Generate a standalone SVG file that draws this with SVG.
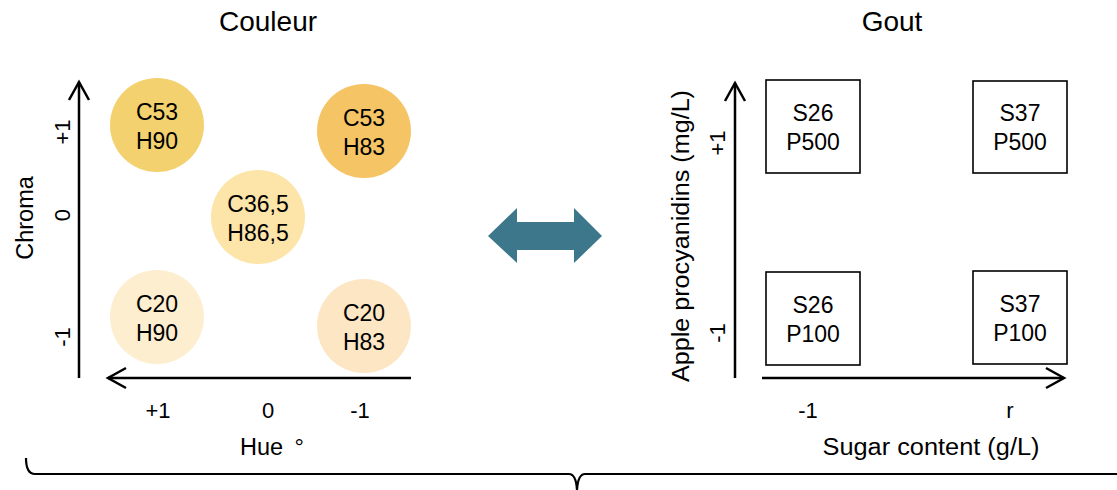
<svg xmlns="http://www.w3.org/2000/svg" width="1117" height="490" viewBox="0 0 1117 490">
  <style>
    text { font-family: "Liberation Sans", Arial, sans-serif; fill: #000; }
    .title { font-size: 28px; text-anchor: middle; }
    .lbl { font-size: 23px; text-anchor: middle; }
    .axis-title { font-size: 23.5px; text-anchor: middle; }
    .tick { font-size: 22px; text-anchor: middle; }
    .axis { stroke: #000; stroke-width: 2.5; fill: none; marker-end: url(#chevron); }
    .box { fill: #fff; stroke: #000; stroke-width: 1.6; }
    .brace { fill: none; stroke: #000; stroke-width: 2.2; }
  </style>
  <defs>
    <marker id="chevron" markerUnits="userSpaceOnUse" markerWidth="26" markerHeight="26" viewBox="-22 -13 26 26" refX="0" refY="0" orient="auto">
      <path d="M-18,-10 L0,0 L-18,10" fill="none" stroke="#000" stroke-width="2.5" stroke-linejoin="miter"/>
    </marker>
  </defs>

  <!-- Titles -->
  <text class="title" x="268" y="31">Couleur</text>
  <text class="title" x="892" y="31">Gout</text>

  <!-- Axes, double arrow and brace -->
  <g id="connectors">
    <line class="axis" x1="79" y1="378" x2="79" y2="82"/>
    <line class="axis" x1="411" y1="378" x2="108" y2="378"/>
    <line class="axis" x1="735" y1="378" x2="735" y2="83"/>
    <line class="axis" x1="762" y1="378" x2="1064" y2="378"/>
    <polygon id="double-arrow" points="488,236 517,208 517,222 574,222 574,208 602,236 574,263 574,250 517,250 517,263" fill="#3D778B"/>
    <path class="brace" d="M26,458 Q26,474 35,474 H569 Q576,474 577,490 Q578,474 585,474 H1117"/>
  </g>

  <!-- Colour panel axis labels -->
  <g id="colour-axis-labels">
    <text class="axis-title" transform="translate(33,218) rotate(-90)">Chroma</text>
    <text class="tick" transform="translate(70,132) rotate(-90)">+1</text>
    <text class="tick" transform="translate(70,215) rotate(-90)">0</text>
    <text class="tick" transform="translate(70,337) rotate(-90)">-1</text>
    <text class="tick" x="158" y="418">+1</text>
    <text class="tick" x="268" y="418">0</text>
    <text class="tick" x="360" y="418">-1</text>
    <text class="axis-title" x="272" y="455">Hue <tspan dx="5">°</tspan></text>
  </g>

  <!-- Colour samples -->
  <g id="c53-h90">
    <circle cx="157" cy="125" r="47" fill="#F2D16E"/>
    <text class="lbl" x="157" y="120">C53</text>
    <text class="lbl" x="157" y="149">H90</text>
  </g>
  <g id="c53-h83">
    <circle cx="364" cy="131" r="47" fill="#F5C465"/>
    <text class="lbl" x="364" y="126">C53</text>
    <text class="lbl" x="364" y="155">H83</text>
  </g>
  <g id="c36-h86">
    <circle cx="258" cy="217" r="47" fill="#FDE4A8"/>
    <text class="lbl" x="258" y="212">C36,5</text>
    <text class="lbl" x="258" y="241">H86,5</text>
  </g>
  <g id="c20-h90">
    <circle cx="157" cy="317" r="47" fill="#FEEED0"/>
    <text class="lbl" x="157" y="312">C20</text>
    <text class="lbl" x="157" y="341">H90</text>
  </g>
  <g id="c20-h83">
    <circle cx="364" cy="326" r="47" fill="#FDE6C4"/>
    <text class="lbl" x="364" y="321">C20</text>
    <text class="lbl" x="364" y="350">H83</text>
  </g>

  <!-- Taste panel axis labels -->
  <g id="taste-axis-labels">
    <text class="axis-title" transform="translate(689,236) rotate(-90)" textLength="292" lengthAdjust="spacingAndGlyphs">Apple procyanidins (mg/L)</text>
    <text class="tick" transform="translate(725,143) rotate(-90)">+1</text>
    <text class="tick" transform="translate(725,333) rotate(-90)">-1</text>
    <text class="tick" x="808" y="418">-1</text>
    <text class="tick" x="1010" y="418">r</text>
    <text class="axis-title" x="931" y="455" textLength="217" lengthAdjust="spacingAndGlyphs">Sugar content (g/L)</text>
  </g>

  <!-- Taste samples -->
  <g id="s26-p500">
    <rect class="box" x="766" y="80" width="94" height="93"/>
    <text class="lbl" x="813" y="121">S26</text>
    <text class="lbl" x="813" y="150">P500</text>
  </g>
  <g id="s37-p500">
    <rect class="box" x="973" y="81" width="94" height="92"/>
    <text class="lbl" x="1020" y="121">S37</text>
    <text class="lbl" x="1020" y="150">P500</text>
  </g>
  <g id="s26-p100">
    <rect class="box" x="766" y="272" width="94" height="93"/>
    <text class="lbl" x="813" y="313">S26</text>
    <text class="lbl" x="813" y="342">P100</text>
  </g>
  <g id="s37-p100">
    <rect class="box" x="973" y="271" width="94" height="93"/>
    <text class="lbl" x="1020" y="312">S37</text>
    <text class="lbl" x="1020" y="341">P100</text>
  </g>
</svg>
